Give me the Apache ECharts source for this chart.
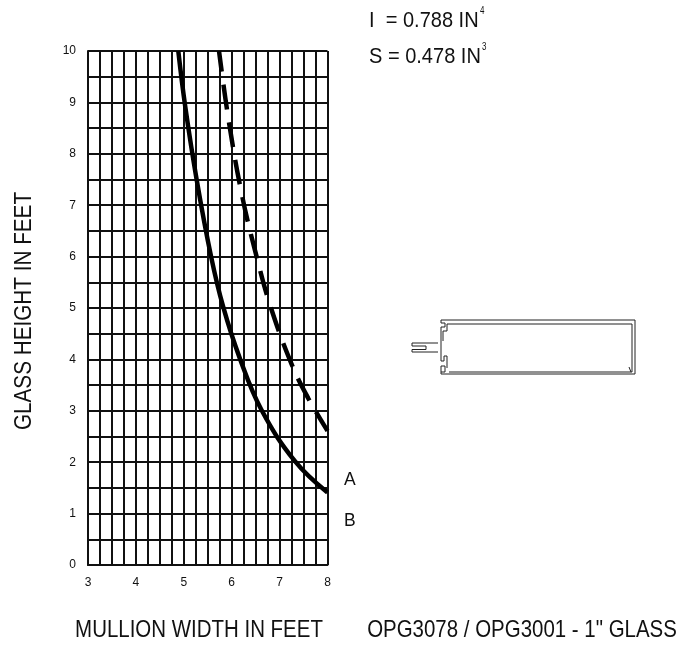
<!DOCTYPE html>
<html><head><meta charset="utf-8">
<style>html,body{margin:0;padding:0;background:#fff}#c{width:694px;height:646px}</style>
<script src="https://cdn.jsdelivr.net/npm/echarts@6/dist/echarts.min.js"></script>
</head><body><div id="c"></div>
<script>
const solidCurve = [[4.885,10],[5.03,8.92],[5.27,7.49],[5.57,6],[5.82,5.03],[6.17,4.02],[6.62,3.02],[7.32,2.02],[8,1.41]];
const dashedCurve = [[5.735,10],[5.94,8.63],[6.22,7.17],[6.52,6],[6.81,5.03],[7.25,3.91],[7.6,3.24],[8,2.61]];
const xName = 'MULLION WIDTH IN FEET';
const yName = 'GLASS HEIGHT IN FEET';
const FONT = '"Liberation Sans", Arial, sans-serif';
const INK = '#111';

function poly(points,w){return {type:'polyline',silent:true,shape:{points},style:{stroke:'#222',lineWidth:w||1,fill:null}};}
function txt(x,y,text,size,extra,align){return Object.assign({type:'text',silent:true,x,y,style:{text,font:size+'px '+FONT,fill:INK,textVerticalAlign:'middle',textAlign:align||'left'}},extra||{});}

const profile = [
 [[441,320],[635,320],[635,374],[441,374],[441,366]],
 [[447,324],[632,324],[632,372],[449,372]],
 [[441,320],[441,323],[445,323],[445,327],[441,327],[441,332]],
 [[447,324],[447,331],[443,331],[443,341]],
 [[441,332],[441,342]],
 [[441,352],[441,361],[444,361],[444,356],[447,356],[447,368]],
 [[412,343],[438,343]],[[412,352],[438,352]],
 [[412,343],[412,346],[426,346],[426,349.5],[412,349.5],[412,352]],
 [[441,342],[441,352]],
 [[441,366],[445,366],[445,372],[441,372]],
 [[629,367],[631,372]]
];

const chart = echarts.init(document.getElementById('c'),null,{renderer:'canvas'});
chart.setOption({
 animation:false,
 backgroundColor:'#fff',
 grid:{left:88,top:51,width:239.5,height:514,containLabel:false},
 xAxis:{type:'value',min:3,max:8,interval:1,
  axisLine:{show:true,onZero:false,lineStyle:{color:'#111',width:2}},axisTick:{show:false},
  axisLabel:{fontFamily:FONT,fontSize:12,color:INK,margin:12,showMinLabel:true,showMaxLabel:true},
  splitLine:{show:true,lineStyle:{color:'#111',width:2}},
  minorTick:{show:false,splitNumber:4},minorSplitLine:{show:true,lineStyle:{color:'#111',width:2}}},
 yAxis:{type:'value',min:0,max:10,interval:1,
  axisLine:{show:true,onZero:false,lineStyle:{color:'#111',width:2}},axisTick:{show:false},
  axisLabel:{fontFamily:FONT,fontSize:12,color:INK,margin:12,showMinLabel:true,showMaxLabel:true},
  splitLine:{show:true,lineStyle:{color:'#111',width:2}},
  minorTick:{show:false,splitNumber:2},minorSplitLine:{show:true,lineStyle:{color:'#111',width:2}}},
 series:[
  {name:'A',type:'line',data:solidCurve,showSymbol:false,smooth:0.4,z:5,lineStyle:{color:'#000',width:4.5,cap:'butt'}},
  {name:'B',type:'line',data:dashedCurve,showSymbol:false,smooth:0.4,z:5,lineStyle:{color:'#000',width:4.5,type:[25,13],dashOffset:4,cap:'butt'}}
 ],
 graphic:{elements:[
  txt(344,480,'A',17.5),txt(344,521,'B',17.5),
  txt(369,21,'I  = 0.788 IN',22,{scaleX:0.91}),txt(480,11,'4',10,{scaleX:0.8}),
  txt(369,57,'S = 0.478 IN',22,{scaleX:0.91}),txt(482,47,'3',10,{scaleX:0.8}),
  txt(199,630,xName,24.5,{scaleX:0.835},'center'),
  txt(24,311,yName,24.5,{scaleX:0.845,rotation:Math.PI/2},'center'),
  txt(522,630,'OPG3078 / OPG3001 - 1" GLASS',24.5,{scaleX:0.835},'center'),
  ...profile.map(p=>poly(p))
 ]}
});
</script></body></html>
